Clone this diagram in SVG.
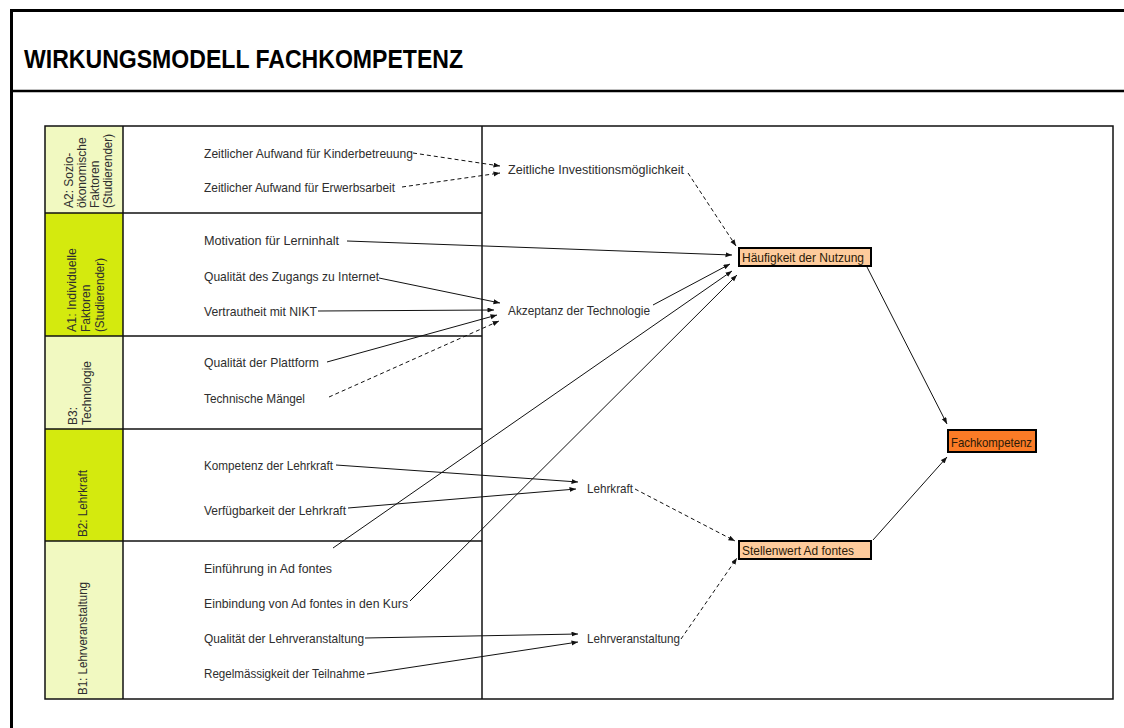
<svg xmlns="http://www.w3.org/2000/svg" width="1124" height="728" viewBox="0 0 1124 728">
<defs>
<marker id="ah" markerUnits="userSpaceOnUse" markerWidth="7" markerHeight="6" refX="6.5" refY="2.5" orient="auto">
<path d="M0,0 L6.5,2.5 L0,5 z" fill="#111"/>
</marker>
<style>
.t{font-family:"Liberation Sans",Arial,sans-serif;font-size:13px;fill:#2e2e2e}
.r{font-family:"Liberation Sans",Arial,sans-serif;font-size:12px;fill:#2e2e2e}
.b{font-family:"Liberation Sans",Arial,sans-serif;font-size:13px;fill:#2a1a08}
.c{fill:none;stroke:#111;stroke-width:1;marker-end:url(#ah)}
.d{stroke-dasharray:4,3}
.g{stroke:#111;stroke-width:1.5;fill:none}
.lt{fill:#f1f9c1}
.dk{fill:#d4ea0e}
</style>
</defs>
<rect width="1124" height="728" fill="#fff"/>
<g id="frame">
<path d="M11.5,740 V10.5 H1130" fill="none" stroke="#000" stroke-width="3"/>
<line x1="10" y1="91" x2="1130" y2="91" stroke="#000" stroke-width="2.5"/>
<text x="24" y="68" font-family="Liberation Sans,Arial,sans-serif" font-weight="bold" font-size="26" fill="#000" textLength="439" lengthAdjust="spacingAndGlyphs">WIRKUNGSMODELL FACHKOMPETENZ</text>
</g>
<g id="table">
<rect class="lt" x="45" y="126" width="78" height="87"/>
<rect class="dk" x="45" y="213" width="78" height="123"/>
<rect class="lt" x="45" y="336" width="78" height="93"/>
<rect class="dk" x="45" y="429" width="78" height="112"/>
<rect class="lt" x="45" y="541" width="78" height="158"/>
<rect class="g" x="45" y="126" width="1068" height="573"/>
<line class="g" x1="123" y1="126" x2="123" y2="699"/>
<line class="g" x1="482" y1="126" x2="482" y2="699"/>
<line class="g" x1="45" y1="213" x2="482" y2="213"/>
<line class="g" x1="45" y1="336" x2="482" y2="336"/>
<line class="g" x1="45" y1="429" x2="482" y2="429"/>
<line class="g" x1="45" y1="541" x2="482" y2="541"/>
</g>
<g id="cat-A2">
<text class="r" transform="translate(73,208) rotate(-90)">A2: Sozio-</text>
<text class="r" transform="translate(86,208) rotate(-90)">ökonomische</text>
<text class="r" transform="translate(99,208) rotate(-90)">Faktoren</text>
<text class="r" transform="translate(112,208) rotate(-90)" textLength="74" lengthAdjust="spacingAndGlyphs">(Studierender)</text>
</g>
<g id="cat-A1">
<text class="r" transform="translate(76,332) rotate(-90)" textLength="84" lengthAdjust="spacingAndGlyphs">A1: Individuelle</text>
<text class="r" transform="translate(90,332) rotate(-90)">Faktoren</text>
<text class="r" transform="translate(104,332) rotate(-90)" textLength="74" lengthAdjust="spacingAndGlyphs">(Studierender)</text>
</g>
<g id="cat-B3">
<text class="r" transform="translate(77,425) rotate(-90)">B3:</text>
<text class="r" transform="translate(91,425) rotate(-90)">Technologie</text>
</g>
<g id="cat-B2">
<text class="r" transform="translate(87,537) rotate(-90)" textLength="67" lengthAdjust="spacingAndGlyphs">B2: Lehrkraft</text>
</g>
<g id="cat-B1">
<text class="r" transform="translate(87,695) rotate(-90)" textLength="113" lengthAdjust="spacingAndGlyphs">B1: Lehrveranstaltung</text>
</g>
<g id="connectors">
<line class="c d" x1="413" y1="153" x2="500" y2="166"/>
<line class="c d" x1="402" y1="187" x2="500" y2="173"/>
<line class="c d" x1="688" y1="173" x2="736" y2="246"/>
<line class="c" x1="347" y1="241" x2="732" y2="255"/>
<line class="c" x1="379" y1="278" x2="500" y2="303"/>
<line class="c" x1="318" y1="311" x2="494" y2="310"/>
<line class="c" x1="327" y1="362" x2="497" y2="315"/>
<line class="c d" x1="329" y1="397" x2="499" y2="321"/>
<line class="c" x1="653" y1="305" x2="730" y2="264"/>
<line class="c" x1="333" y1="548" x2="732" y2="271"/>
<line class="c" x1="410" y1="601" x2="737" y2="275"/>
<line class="c" x1="867" y1="267" x2="947" y2="424"/>
<line class="c" x1="336" y1="465" x2="578" y2="482"/>
<line class="c" x1="348" y1="508" x2="576" y2="489"/>
<line class="c d" x1="635" y1="489" x2="735" y2="541"/>
<line class="c" x1="365" y1="638" x2="578" y2="634"/>
<line class="c" x1="367" y1="674" x2="578" y2="642"/>
<line class="c d" x1="681" y1="639" x2="737" y2="558"/>
<line class="c" x1="873" y1="540" x2="947" y2="457"/>
</g>
<g id="n-kinder"><text class="t" x="204" y="157.5" textLength="209" lengthAdjust="spacingAndGlyphs">Zeitlicher Aufwand für Kinderbetreuung</text></g>
<g id="n-erwerb"><text class="t" x="204" y="192" textLength="191" lengthAdjust="spacingAndGlyphs">Zeitlicher Aufwand für Erwerbsarbeit</text></g>
<g id="n-motivation"><text class="t" x="204" y="245" textLength="135" lengthAdjust="spacingAndGlyphs">Motivation für Lerninhalt</text></g>
<g id="n-zugang"><text class="t" x="204" y="280.5" textLength="175" lengthAdjust="spacingAndGlyphs">Qualität des Zugangs zu Internet</text></g>
<g id="n-nikt"><text class="t" x="204" y="316" textLength="113" lengthAdjust="spacingAndGlyphs">Vertrautheit mit NIKT</text></g>
<g id="n-plattform"><text class="t" x="204" y="367" textLength="115" lengthAdjust="spacingAndGlyphs">Qualität der Plattform</text></g>
<g id="n-maengel"><text class="t" x="204" y="403" textLength="101" lengthAdjust="spacingAndGlyphs">Technische Mängel</text></g>
<g id="n-kompetenz"><text class="t" x="204" y="470" textLength="129" lengthAdjust="spacingAndGlyphs">Kompetenz der Lehrkraft</text></g>
<g id="n-verfueg"><text class="t" x="204" y="515" textLength="142" lengthAdjust="spacingAndGlyphs">Verfügbarkeit der Lehrkraft</text></g>
<g id="n-einfuehrung"><text class="t" x="204" y="573" textLength="128" lengthAdjust="spacingAndGlyphs">Einführung in Ad fontes</text></g>
<g id="n-einbindung"><text class="t" x="204" y="608" textLength="204" lengthAdjust="spacingAndGlyphs">Einbindung von Ad fontes in den Kurs</text></g>
<g id="n-qlv"><text class="t" x="204" y="643" textLength="160" lengthAdjust="spacingAndGlyphs">Qualität der Lehrveranstaltung</text></g>
<g id="n-regel"><text class="t" x="204" y="678" textLength="161" lengthAdjust="spacingAndGlyphs">Regelmässigkeit der Teilnahme</text></g>
<g id="n-invest"><text class="t" x="508" y="174" textLength="176" lengthAdjust="spacingAndGlyphs">Zeitliche Investitionsmöglichkeit</text></g>
<g id="n-akzeptanz"><text class="t" x="508" y="315" textLength="142" lengthAdjust="spacingAndGlyphs">Akzeptanz der Technologie</text></g>
<g id="n-lehrkraft"><text class="t" x="587" y="493" textLength="46" lengthAdjust="spacingAndGlyphs">Lehrkraft</text></g>
<g id="n-lehrveranst"><text class="t" x="587" y="643" textLength="93" lengthAdjust="spacingAndGlyphs">Lehrveranstaltung</text></g>
<g id="n-haeufigkeit">
<rect x="739" y="248" width="132" height="18" fill="#fecb9c" stroke="#000" stroke-width="2"/>
<text class="b" x="742" y="262" textLength="122" lengthAdjust="spacingAndGlyphs">Häufigkeit der Nutzung</text>
</g>
<g id="n-stellenwert">
<rect x="739" y="541" width="132" height="18" fill="#fecb9c" stroke="#000" stroke-width="2"/>
<text class="b" x="742" y="555" textLength="112" lengthAdjust="spacingAndGlyphs">Stellenwert Ad fontes</text>
</g>
<g id="n-fach">
<rect x="948" y="430" width="88" height="22" fill="#fb7b26" stroke="#000" stroke-width="2"/>
<text class="b" x="951" y="447" textLength="81" lengthAdjust="spacingAndGlyphs">Fachkompetenz</text>
</g>
</svg>
